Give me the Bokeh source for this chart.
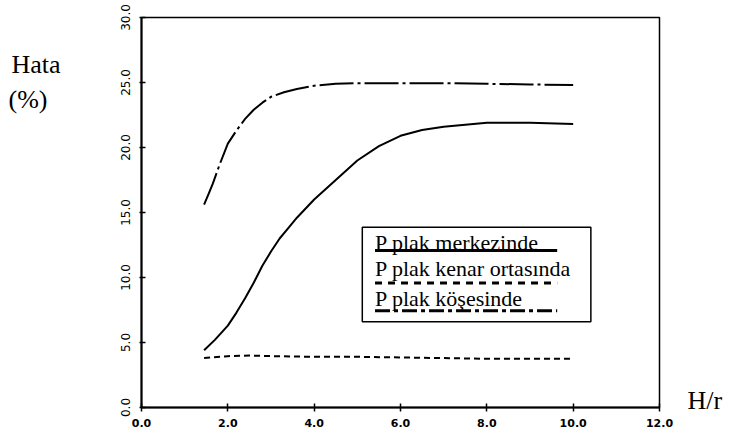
from bokeh.plotting import figure
from bokeh.models import Range1d, FixedTicker, PrintfTickFormatter, Label, LinearAxis
from bokeh.embed import file_html
from bokeh.resources import INLINE

# ---- data ----
hr_merkez = [1.45, 1.7, 2.0, 2.2, 2.4, 2.6, 2.8, 3.0, 3.2, 3.4, 3.6, 4.0, 4.5, 5.0, 5.5, 6.0, 6.5, 7.0, 8.0, 9.0, 10.0]
hata_merkez = [4.4, 5.2, 6.3, 7.3, 8.4, 9.6, 10.9, 12.0, 13.0, 13.8, 14.6, 16.0, 17.5, 19.0, 20.1, 20.9, 21.35, 21.6, 21.9, 21.9, 21.8]

hr_kenar = [1.45, 2.0, 2.5, 3.0, 4.0, 5.0, 6.0, 7.0, 8.0, 9.0, 10.0]
hata_kenar = [3.8, 3.95, 4.0, 3.95, 3.9, 3.9, 3.85, 3.8, 3.75, 3.75, 3.75]

hr_kose = [1.45, 1.55, 1.65, 1.8, 2.0, 2.2, 2.4, 2.6, 2.8, 3.0, 3.3, 3.6, 4.0, 4.5, 5.0, 6.0, 7.0, 8.0, 9.0, 10.0]
hata_kose = [15.6, 16.4, 17.2, 18.6, 20.3, 21.3, 22.2, 22.9, 23.45, 23.9, 24.25, 24.5, 24.75, 24.9, 24.95, 24.95, 24.95, 24.9, 24.85, 24.8]

x_ticks = [0, 2, 4, 6, 8, 10, 12]
y_ticks = [0, 5, 10, 15, 20, 25, 30]

legend_labels = ["P plak merkezinde", "P plak kenar ortasında", "P plak köşesinde"]
y_title = ["Hata", "(%)\u00a0\u00a0"]
x_title = "H/r"

# ---- figure ----
p = figure(width=747, height=435, output_backend="svg", toolbar_location=None,
           x_range=Range1d(0, 12), y_range=Range1d(0, 30),
           min_border_left=141, min_border_right=88, min_border_top=17, min_border_bottom=28)
p.grid.visible = False
p.outline_line_color = "black"
p.outline_line_width = 1.5
p.background_fill_color = "white"
p.border_fill_color = "white"

p.xaxis.ticker = FixedTicker(ticks=x_ticks)
p.yaxis.ticker = FixedTicker(ticks=y_ticks)
p.xaxis.formatter = PrintfTickFormatter(format="%.1f")
p.yaxis.formatter = PrintfTickFormatter(format="%.1f")
for ax in (p.xaxis[0], p.yaxis[0]):
    ax.axis_label = None
    ax.axis_label_standoff = 0
    ax.axis_line_width = 2
    ax.axis_line_color = "black"
    ax.major_tick_line_color = "black"
    ax.major_tick_line_width = 1.5
    ax.minor_tick_line_color = None
    ax.minor_tick_out = 0
    ax.minor_tick_in = 0
    ax.major_label_text_color = "black"
p.xaxis.major_tick_in = 4
p.xaxis.major_tick_out = 4
p.xaxis.major_label_standoff = 7
p.xaxis.major_label_text_font = "DejaVu Sans"
p.xaxis.major_label_text_font_style = "bold"
p.xaxis.major_label_text_font_size = "11px"
p.yaxis.major_tick_in = 4
p.yaxis.major_tick_out = 2
p.yaxis.major_label_standoff = 10
p.yaxis.major_label_orientation = "vertical"
p.yaxis.major_label_text_font = "DejaVu Sans"
p.yaxis.major_label_text_font_size = "12px"

# ---- axis titles as label-only axes (placed in the side borders) ----
def title_axis(ticks, labels, standoff):
    ax = LinearAxis(ticker=FixedTicker(ticks=ticks),
                    major_label_overrides={t: s for t, s in zip(ticks, labels)})
    ax.axis_line_color = None
    ax.major_tick_line_color = None
    ax.minor_tick_line_color = None
    ax.major_tick_in = 0
    ax.major_tick_out = 0
    ax.minor_tick_in = 0
    ax.minor_tick_out = 0
    ax.major_label_standoff = standoff
    ax.major_label_orientation = "horizontal"
    ax.major_label_text_font = "Liberation Serif"
    ax.major_label_text_font_size = "26px"
    ax.major_label_text_color = "black"
    ax.axis_label = None
    return ax

p.add_layout(title_axis([26.36, 23.7], y_title, 57), "left")
p.add_layout(title_axis([0.55], [x_title], 28), "right")

# ---- curves ----
p.line(hr_kenar, hata_kenar, line_color="black", line_width=2, line_dash="6 4")
p.line(hr_merkez, hata_merkez, line_color="black", line_width=2)
p.line(hr_kose, hata_kose, line_color="black", line_width=2, line_dash="34 4 3 4")

# ---- legend box (drawn manually: label above its line sample) ----
box_l, box_r, box_t, box_b = 5.115, 10.41, 13.87, 6.60
p.quad(left=[box_l], right=[box_r], top=[box_t], bottom=[box_b],
       fill_color="white", line_color="black", line_width=1.5)
text_x = 5.41
line_x0, line_x1 = 5.41, 9.63
text_y = [12.67, 10.665, 8.35]
line_y = [12.07, 9.58, 7.45]
dashes = ["solid", "7 6", "15 4 4 4"]
for lab, ty, ly, d in zip(legend_labels, text_y, line_y, dashes):
    p.add_layout(Label(x=text_x, y=ty, text=lab, text_font="Liberation Serif",
                       text_font_size="22px", text_color="black", text_baseline="alphabetic"))
    p.line([line_x0, line_x1], [ly, ly], line_color="black", line_width=3, line_dash=d)

open("out.html", "w").write(file_html(p, INLINE))
